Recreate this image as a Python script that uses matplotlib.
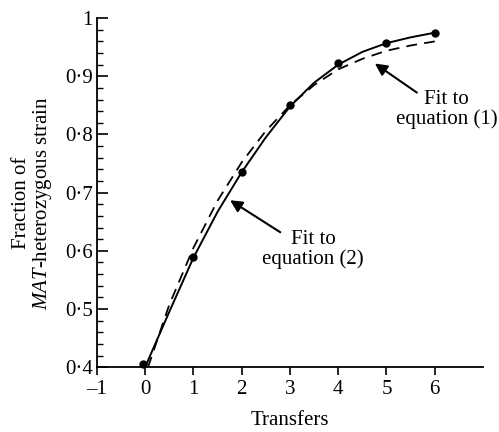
import matplotlib
matplotlib.use("Agg")
import matplotlib.pyplot as plt
from matplotlib.ticker import FixedLocator, MultipleLocator, FuncFormatter

plt.rcParams['font.family'] = ['Liberation Serif', 'DejaVu Serif']
plt.rcParams['mathtext.fontset'] = 'custom'
plt.rcParams['mathtext.rm'] = 'Liberation Serif'
plt.rcParams['mathtext.it'] = 'Liberation Serif:italic'

# measured data points
transfers = [-0.04, 1, 2, 3, 4, 5, 6]
fraction = [0.406, 0.589, 0.735, 0.851, 0.923, 0.958, 0.975]

# fit to equation (2), solid
fit2_x = [0, 0.5, 1, 1.5, 2, 2.5, 3, 3.5, 4, 4.5, 5, 5.5, 6]
fit2_y = [0.400, 0.495, 0.588, 0.667, 0.735, 0.795, 0.848, 0.889, 0.920, 0.942, 0.957, 0.967, 0.975]

# fit to equation (1), dashed
fit1_x = [0.06, 0.5, 1, 1.5, 2, 2.5, 3, 3.5, 4, 4.5, 5, 5.5, 6]
fit1_y = [0.400, 0.507, 0.605, 0.686, 0.752, 0.806, 0.850, 0.885, 0.912, 0.930, 0.944, 0.953, 0.960]

xticks = [-1, 0, 1, 2, 3, 4, 5, 6]
yticks = [0.4, 0.5, 0.6, 0.7, 0.8, 0.9, 1.0]

fig = plt.figure(figsize=(4.99, 4.32), dpi=100)
ax = fig.add_axes([0.194, 0.150, 0.774, 0.808])

ax.plot(fit2_x, fit2_y, color='black', lw=1.4, solid_capstyle='butt')
ax.plot(fit1_x, fit1_y, color='black', lw=1.3, dashes=(6, 4))
ax.plot(transfers, fraction, 'o', color='black', ms=5, clip_on=False)

ax.set_xlim(-1, 7)
ax.set_ylim(0.4, 1.0)
ax.spines['top'].set_visible(False)
ax.spines['right'].set_visible(False)
for s in ['left', 'bottom']:
    ax.spines[s].set_linewidth(1.3)

ax.xaxis.set_major_locator(FixedLocator(xticks))
ax.yaxis.set_major_locator(FixedLocator(yticks))
ax.yaxis.set_minor_locator(MultipleLocator(0.02))
ax.xaxis.set_major_formatter(FuncFormatter(lambda v, p: '\u2013' + str(int(-v)) if v < 0 else str(int(v))))
ax.yaxis.set_major_formatter(FuncFormatter(lambda v, p: '1' if v > 0.99 else ('%.1f' % v).replace('.', '\u00b7')))

ax.tick_params(axis='x', direction='out', length=6, width=1.2, labelsize=15, pad=3)
ax.tick_params(axis='y', which='major', direction='in', length=8, width=1.2, labelsize=15, pad=3)
ax.tick_params(axis='y', which='minor', direction='in', length=4, width=1.0)

ax.set_xlabel('Transfers', fontsize=15, labelpad=9)
fig.text(0.044, 0.530, 'Fraction of', rotation=90, ha='center', va='center', fontsize=15)
fig.text(0.086, 0.530, r'$\mathit{MAT}$-heterozygous strain', rotation=90, ha='center', va='center', fontsize=15)

arrow = dict(arrowstyle='-|>', color='black', lw=1.5, mutation_scale=18, shrinkA=0, shrinkB=0)
ax.annotate('', xy=(4.76, 0.922), xytext=(5.63, 0.872), arrowprops=arrow)
ax.text(6.25, 0.843, 'Fit to\nequation (1)', ha='center', va='center', fontsize=15, linespacing=1.0)
ax.annotate('', xy=(1.76, 0.687), xytext=(2.80, 0.632), arrowprops=arrow)
ax.text(3.48, 0.602, 'Fit to\nequation (2)', ha='center', va='center', fontsize=15, linespacing=1.0)

fig.savefig('out.png', dpi=100)
